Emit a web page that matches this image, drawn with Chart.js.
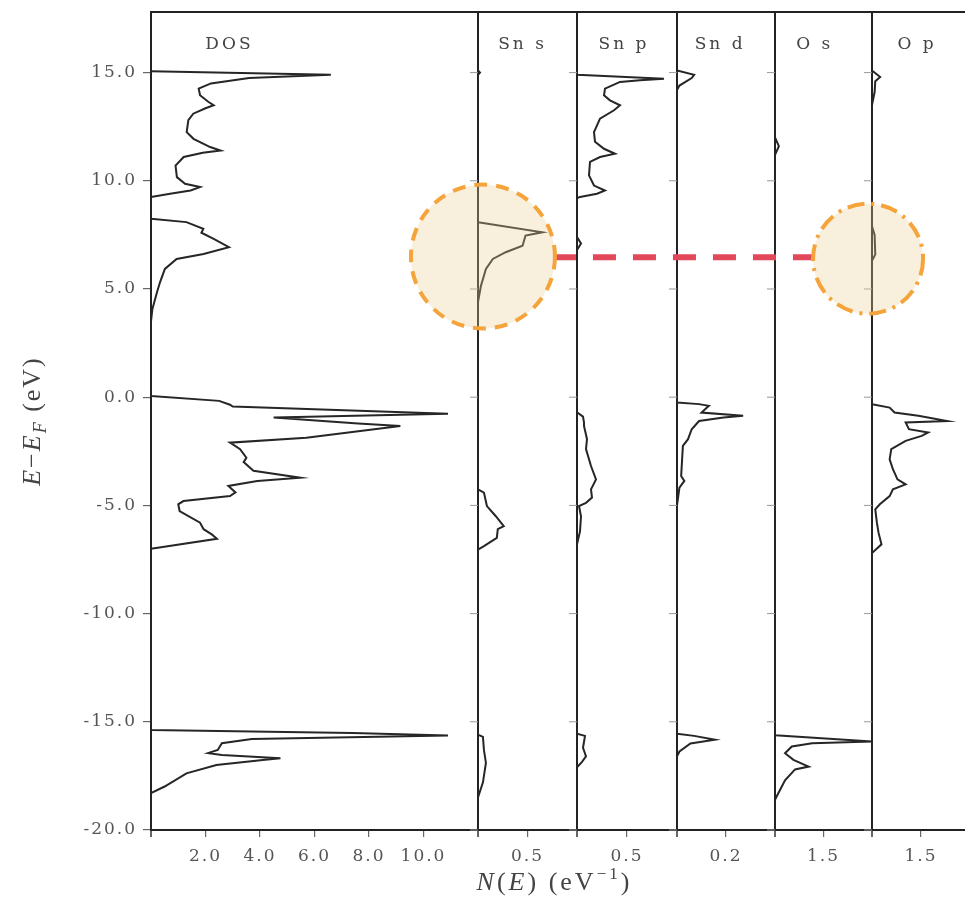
<!DOCTYPE html>
<html><head><meta charset="utf-8">
<script src="https://cdn.jsdelivr.net/npm/chart.js@4.4.1/dist/chart.umd.min.js"></script>
<style>
html,body{margin:0;padding:0;background:#fff;overflow:hidden;width:965px;height:900px}
#wrap{position:absolute;left:0;top:0;width:975px;height:900px}
</style>
</head><body><div id="wrap"><canvas id="c" width="975" height="900"></canvas></div>
<script>
// ---------------- data ----------------
const panelNames = ['DOS', 'Sn s', 'Sn p', 'Sn d', 'O s', 'O p'];
const panelMax   = [12, 1.0, 1.0, 0.4, 3.0, 3.0];
const panelStep  = [2, 0.5, 0.5, 0.2, 1.5, 1.5];
const dosTicks = [2, 4, 6, 8, 10];
const snsTicks = [0.5];
const snpTicks = [0.5];
const sndTicks = [0.2];
const osTicks  = [1.5];
const opTicks  = [1.5];
const energyTicks = [-20, -15, -10, -5, 0, 5, 10, 15];

// total DOS
const dosE = [15.1, 15.06, 14.9, 14.75, 14.5, 14.26, 13.95, 13.65, 13.49, 13.35, 13.1, 12.8, 12.25, 11.94, 11.56, 11.4, 11.3, 11.1, 10.7, 10.17, 9.86, 9.71, 9.55, 9.4, 9.25,
  8.25, 8.09, 7.78, 7.6, 7.32, 6.93, 6.62, 6.39, 5.93, 5.31, 4.85, 4.07, 3.5,
  0.05, -0.17, -0.35, -0.43, -0.76, -0.94, -1.22, -1.33, -1.87, -2.1, -2.4, -2.8, -3.0, -3.4, -3.72, -3.87, -4.1, -4.4, -4.57, -4.8, -4.95, -5.26, -5.8, -6.1, -6.34, -6.54, -7.0,
  -15.38, -15.52, -15.63, -15.8, -15.99, -16.3, -16.45, -16.53, -16.68, -16.76, -17.0, -17.38, -17.99, -18.3, -20];
const dosN = [0, 0, 6.6, 3.6, 2.2, 1.75, 1.8, 2.1, 2.3, 2.0, 1.55, 1.37, 1.31, 1.56, 2.17, 2.55, 1.9, 1.2, 0.9, 0.95, 1.25, 1.8, 1.45, 0.7, 0,
  0, 1.3, 1.92, 1.85, 2.3, 2.86, 1.93, 0.94, 0.51, 0.33, 0.22, 0.05, 0,
  0, 2.5, 2.9, 3.0, 10.9, 4.5, 7.6, 9.15, 5.7, 2.9, 3.27, 3.5, 3.4, 3.76, 5.48, 3.9, 2.84, 3.1, 2.9, 1.19, 1.0, 1.05, 1.8, 1.93, 2.23, 2.42, 0,
  0, 7.4, 10.9, 3.7, 2.6, 2.45, 2.1, 2.6, 4.75, 4.1, 2.4, 1.3, 0.5, 0, 0];

// Sn s
const snsE = [15.1, 15.0, 14.9, 8.09, 7.62, 7.47, 7.0, 6.7, 6.39, 5.93, 5.15, 4.4,
  -4.26, -4.41, -5.03, -5.5, -5.96, -6.1, -6.5, -6.88, -7.04,
  -15.6, -15.7, -16.3, -16.9, -17.8, -18.5, -20];
const snsN = [0, 0.02, 0, 0, 0.65, 0.48, 0.45, 0.28, 0.15, 0.08, 0.03, 0,
  0, 0.06, 0.09, 0.18, 0.26, 0.2, 0.19, 0.06, 0,
  0, 0.05, 0.06, 0.08, 0.05, 0, 0];

// Sn p
const snpE = [15.1, 14.9, 14.72, 14.65, 14.57, 14.26, 13.95, 13.72, 13.49, 13.26, 12.87, 12.25, 11.8, 11.48, 11.25, 11.1, 10.87, 10.25, 9.78, 9.55, 9.4, 9.25, 9.2,
  7.4, 7.1, 6.8,
  -0.7, -0.9, -1.17, -1.33, -1.94, -2.4, -3.18, -3.8, -4.26, -4.64, -4.88, -5.03, -5.5, -6.2, -6.8,
  -15.55, -15.65, -16.2, -16.6, -16.85, -17.1, -20];
const snpN = [0, 0, 0.87, 0.63, 0.43, 0.28, 0.27, 0.33, 0.43, 0.37, 0.23, 0.17, 0.18, 0.27, 0.38, 0.23, 0.13, 0.12, 0.17, 0.28, 0.2, 0.03, 0,
  0, 0.04, 0,
  0, 0.06, 0.07, 0.07, 0.1, 0.09, 0.14, 0.19, 0.14, 0.15, 0.09, 0.02, 0.04, 0.03, 0,
  0, 0.08, 0.06, 0.09, 0.05, 0, 0];

// Sn d
const sndE = [15.1, 14.9, 14.75, 14.4, 14.2,
  -0.25, -0.32, -0.4, -0.71, -0.86, -0.94, -1.1, -1.48, -1.94, -2.25, -3.64, -3.87, -4.18, -5.0,
  -15.55, -15.65, -15.83, -16.0, -16.37, -16.6, -20];
const sndN = [0, 0.07, 0.06, 0.01, 0,
  0, 0.09, 0.13, 0.1, 0.27, 0.19, 0.09, 0.06, 0.045, 0.024, 0.017, 0.03, 0.01, 0,
  0, 0.07, 0.155, 0.055, 0.01, 0, 0];

// O s
const osE = [15.1, 12.0, 11.6, 11.2,
  -15.62, -15.91, -15.99, -16.14, -16.45, -16.76, -17.07, -17.2, -17.7, -18.45, -18.6, -20];
const osN = [0, 0, 0.12, 0,
  0, 3.0, 1.15, 0.52, 0.31, 0.57, 1.04, 0.62, 0.31, 0.05, 0, 0];

// O p
const opE = [15.1, 14.8, 14.6, 14.1, 13.5, 7.9, 7.5, 6.6, 6.3,
  -0.32, -0.48, -0.71, -0.86, -1.1, -1.17, -1.48, -1.63, -1.79, -2.02, -2.4, -2.87, -3.33, -3.8, -4.03, -4.26, -4.57, -4.95, -5.18, -5.8, -6.26, -6.8, -7.2, -20];
const opN = [0, 0.25, 0.1, 0.08, 0, 0, 0.08, 0.1, 0,
  0, 0.54, 0.69, 1.42, 2.3, 1.03, 1.13, 1.72, 1.52, 1.03, 0.59, 0.54, 0.64, 0.78, 1.03, 0.64, 0.54, 0.24, 0.1, 0.15, 0.2, 0.29, 0, 0];

// highlighted feature (E ≈ 6.5 eV): Sn s peak linked to O p
const highlightE = 6.47;

// ---------------- styling / layout ----------------
const panelWeights = [327, 99, 100, 98, 97, 98];
const labelFrac = [0.24, 0.45, 0.47, 0.44, 0.41, 0.46];
const tickFont = {family: 'DejaVu Serif', size: 17};
const textGray = '#555';
const lineCol = '#262626';

const panelE = [dosE, snsE, snpE, sndE, osE, opE];
const panelN = [dosN, snsN, snpN, sndN, osN, opN];
const panelTickLabels = [dosTicks, snsTicks, snpTicks, sndTicks, osTicks, opTicks];

const datasets = panelNames.map((name, i) => ({
  label: name,
  data: panelE[i].map((e, k) => ({x: panelN[i][k], y: e})),
  xAxisID: 'x' + i,
  yAxisID: 'y',
  borderColor: lineCol,
  borderWidth: 2,
  pointRadius: 0,
  tension: 0,
  fill: false
}));

const scales = {
  y: {
    type: 'linear', position: 'left', min: -20, max: 17.8,
    ticks: {stepSize: 5, includeBounds: false, autoSkip: false, color: textGray, font: tickFont, padding: 6,
      callback: v => energyTicks.includes(v) ? v.toFixed(1) : ''},
    grid: {drawOnChartArea: false, tickLength: 8, color: '#666', lineWidth: 1.2},
    border: {display: true, color: '#222', width: 2},
    afterFit: s => { s.width = 151; s.paddingTop = 0; s.paddingBottom = 0; }
  }
};
panelNames.forEach((name, i) => {
  const labels = panelTickLabels[i];
  scales['x' + i] = {
    type: 'linear', position: 'bottom', stack: 'panels', stackWeight: panelWeights[i],
    min: 0, max: panelMax[i],
    ticks: {stepSize: panelStep[i], autoSkip: false, maxRotation: 0, color: textGray, font: tickFont, padding: 9,
      callback: v => labels.some(t => Math.abs(t - v) < 1e-6) ? v.toFixed(1) : ''},
    grid: {
      drawOnChartArea: true,
      color: c => (c.tick && Math.abs(c.tick.value) < 1e-9) ? '#222' : 'rgba(0,0,0,0)',
      lineWidth: c => (c.tick && Math.abs(c.tick.value) < 1e-9) ? 2 : 1.2,
      tickColor: '#666', tickLength: 7
    },
    border: {display: true, color: '#222', width: 2},
    afterFit: s => { s.height = 70; s.paddingLeft = 0; s.paddingRight = 0; }
  };
});

// draw styled text runs, character by character with uniform extra spacing
function drawRuns(ctx, runs, x, y, ls) {
  const glyphs = [];
  runs.forEach(r => {
    ctx.font = r.font;
    for (const ch of r.t) glyphs.push({ch, font: r.font, dy: r.dy || 0, w: ctx.measureText(ch).width});
  });
  const total = glyphs.reduce((s, g) => s + g.w, 0) + ls * (glyphs.length - 1);
  let cx = x - total / 2;
  glyphs.forEach(g => { ctx.font = g.font; ctx.fillText(g.ch, cx, y + g.dy); cx += g.w + ls; });
}

const decor = {
  id: 'decor',
  beforeDraw(chart) {
    if ('letterSpacing' in chart.ctx) chart.ctx.letterSpacing = '2px';
  },
  beforeDatasetsDraw(chart) {
    const {ctx, chartArea: a} = chart;
    const yS = chart.scales.y;
    ctx.save();
    ctx.strokeStyle = '#222'; ctx.lineWidth = 2;
    ctx.beginPath(); ctx.moveTo(a.left, a.top); ctx.lineTo(a.right, a.top); ctx.stroke();
    ctx.strokeStyle = '#999'; ctx.lineWidth = 1;
    for (let i = 1; i < panelNames.length; i++) {
      const xs = chart.scales['x' + i];
      const px = xs.getPixelForValue(0);
      energyTicks.forEach(e => {
        const py = yS.getPixelForValue(e);
        ctx.beginPath(); ctx.moveTo(px - 8, py); ctx.lineTo(px, py); ctx.stroke();
      });
    }
    ctx.fillStyle = '#444';
    ctx.font = '17px "DejaVu Serif"';
    ctx.textAlign = 'center'; ctx.textBaseline = 'middle';
    if ('letterSpacing' in ctx) ctx.letterSpacing = '3px';
    panelNames.forEach((n, i) => {
      const xs = chart.scales['x' + i];
      ctx.fillText(n, xs.left + labelFrac[i] * xs.width, 45);
    });
    ctx.restore();
  },
  afterDatasetsDraw(chart) {
    const {ctx} = chart;
    const yS = chart.scales.y;
    const c1 = {x: chart.scales.x1.getPixelForValue(0.05), y: yS.getPixelForValue(6.5), r: 72};
    const c2 = {x: chart.scales.x5.getPixelForValue(-0.12), y: yS.getPixelForValue(6.4), r: 55};
    ctx.save();
    if ('letterSpacing' in ctx) ctx.letterSpacing = '0px';
    const ly = yS.getPixelForValue(highlightE);
    ctx.strokeStyle = '#e3475a'; ctx.lineWidth = 6; ctx.setLineDash([23, 17]);
    ctx.beginPath(); ctx.moveTo(c1.x + c1.r - 2, ly); ctx.lineTo(c2.x - c2.r, ly); ctx.stroke();
    [[c1, [13, 9]], [c2, [17, 7, 3, 7]]].forEach(([c, dash]) => {
      ctx.beginPath(); ctx.arc(c.x, c.y, c.r, 0, Math.PI * 2);
      ctx.fillStyle = 'rgba(236,205,150,0.32)'; ctx.fill();
      ctx.setLineDash(dash); ctx.lineWidth = 4; ctx.strokeStyle = '#f4a43a'; ctx.stroke();
    });
    ctx.restore();
  },
  afterDraw(chart) {
    const {ctx} = chart;
    ctx.save();
    if ('letterSpacing' in ctx) ctx.letterSpacing = '0px';
    ctx.fillStyle = '#444';
    ctx.textAlign = 'left'; ctx.textBaseline = 'alphabetic';
    const it = 'italic 26px "Liberation Serif"', rm = '26px "Liberation Serif"', sm = '17px "Liberation Serif"', smi = 'italic 18px "Liberation Serif"';
    drawRuns(ctx, [
      {t: 'N', font: it}, {t: '(', font: rm}, {t: 'E', font: it}, {t: ')', font: rm},
      {t: ' (eV', font: rm}, {t: '\u2212' + '1', font: sm, dy: -11}, {t: ')', font: rm}
    ], 553, 890, 3);
    ctx.translate(40, 422);
    ctx.rotate(-Math.PI / 2);
    drawRuns(ctx, [
      {t: 'E', font: it}, {t: '\u2212', font: rm}, {t: 'E', font: it}, {t: 'F', font: smi, dy: 6},
      {t: ' (eV)', font: rm}
    ], 0, 0, 2);
    ctx.restore();
  }
};

new Chart(document.getElementById('c'), {
  type: 'line',
  data: {datasets},
  options: {
    responsive: false, animation: false, devicePixelRatio: 1,
    layout: {padding: {top: 12, right: 5, left: 0, bottom: 0}},
    plugins: {legend: {display: false}, tooltip: {enabled: false}, title: {display: false}},
    scales
  },
  plugins: [decor]
});
</script>
</body></html>
